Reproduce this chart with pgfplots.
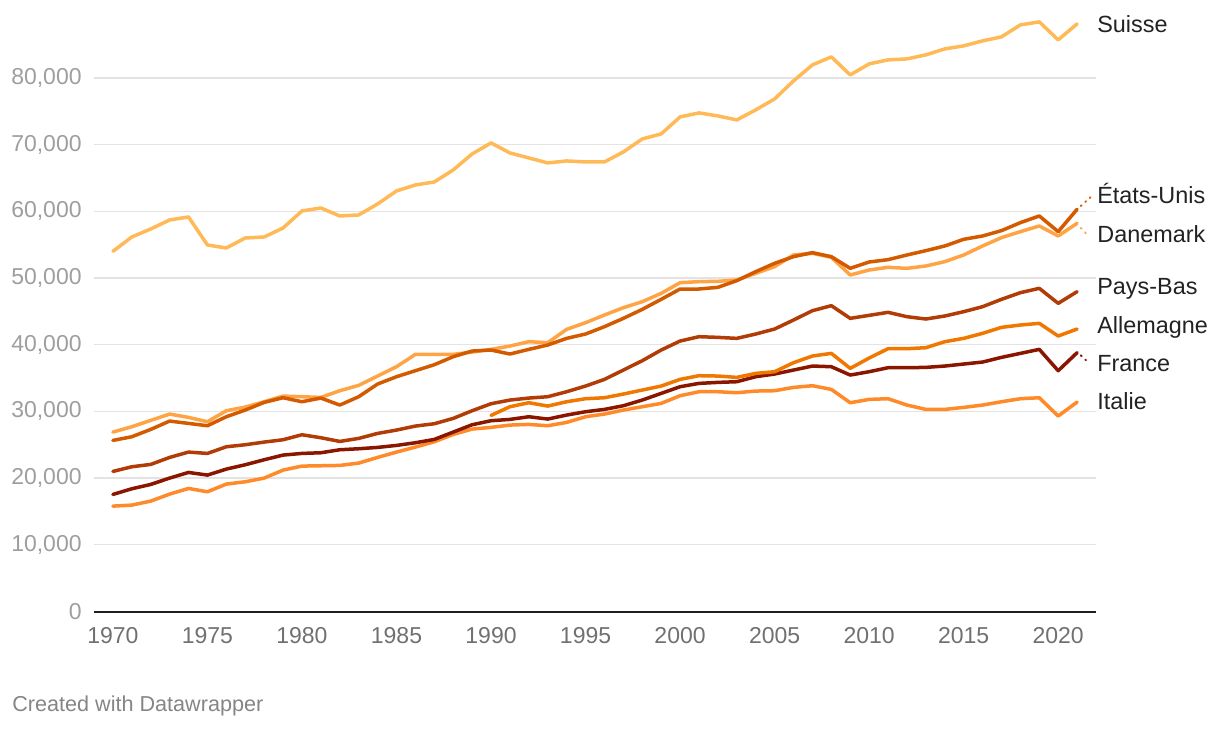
\documentclass[border=0pt]{standalone}
\usepackage{pgfplots}
\pgfplotsset{compat=1.18}
\usepackage{fontspec}
\setmainfont{Liberation Sans}
\definecolor{cSuisse}{HTML}{FFBA57}
\definecolor{cDan}{HTML}{FFA445}
\definecolor{cUS}{HTML}{D45A00}
\definecolor{cNL}{HTML}{B23C05}
\definecolor{cDE}{HTML}{F07800}
\definecolor{cFR}{HTML}{8A1600}
\definecolor{cIT}{HTML}{FF8A2A}
\definecolor{grid}{HTML}{E3E3E3}
\definecolor{ylab}{HTML}{9E9E9E}
\definecolor{xlab}{HTML}{707070}
\definecolor{lab}{HTML}{222222}
\begin{document}
\begin{tikzpicture}
\begin{axis}[
  at={(0,0)}, anchor=south west,
  scale only axis, width=501pt, height=300.15pt,
  xmin=1969, xmax=2022, ymin=0, ymax=90000,
  clip=false,
  axis x line*=bottom, axis y line*=left,
  x axis line style={draw=black!88, line width=1pt, -},
  y axis line style={draw=none, -},
  major tick length=0pt,
  xtick={1970,1975,...,2020},
  ytick={0,10000,...,80000},
  scaled y ticks=false, scaled x ticks=false,
  ymajorgrids, grid style={draw=grid, line width=0.65pt},
  xticklabel style={font=\fontsize{11.5}{13}\selectfont, text=xlab, inner sep=0pt, anchor=north, yshift=-7.8pt, /pgf/number format/1000 sep={}},
  yticklabel style={font=\fontsize{11.5}{13}\selectfont, text=ylab, inner sep=0pt, anchor=east, xshift=-6pt, /pgf/number format/1000 sep={,}},
  /pgf/number format/assume math mode=true,
  every axis plot/.append style={line width=1.75pt, line join=round, line cap=round, no markers},
]
% Suisse
\addplot[cSuisse] coordinates {(1970,54000)(1971,56150)(1972,57350)(1973,58700)(1974,59150)(1975,54950)(1976,54500)(1977,56000)(1978,56150)(1979,57500)(1980,60050)(1981,60500)(1982,59300)(1983,59450)(1984,61100)(1985,63050)(1986,63950)(1987,64400)(1988,66200)(1989,68600)(1990,70250)(1991,68750)(1992,68000)(1993,67250)(1994,67550)(1995,67400)(1996,67400)(1997,68900)(1998,70850)(1999,71600)(2000,74150)(2001,74750)(2002,74300)(2003,73700)(2004,75200)(2005,76850)(2006,79550)(2007,81950)(2008,83150)(2009,80450)(2010,82100)(2011,82700)(2012,82850)(2013,83450)(2014,84350)(2015,84800)(2016,85550)(2017,86150)(2018,87950)(2019,88400)(2020,85700)(2021,88100)};
% Italie
\addplot[cIT] coordinates {(1970,15800)(1971,15950)(1972,16550)(1973,17600)(1974,18450)(1975,17950)(1976,19100)(1977,19450)(1978,20000)(1979,21200)(1980,21800)(1981,21850)(1982,21900)(1983,22250)(1984,23100)(1985,23900)(1986,24650)(1987,25450)(1988,26550)(1989,27350)(1990,27600)(1991,27950)(1992,28050)(1993,27850)(1994,28350)(1995,29200)(1996,29600)(1997,30200)(1998,30700)(1999,31200)(2000,32350)(2001,32950)(2002,32950)(2003,32800)(2004,33050)(2005,33100)(2006,33600)(2007,33850)(2008,33300)(2009,31300)(2010,31800)(2011,31900)(2012,30950)(2013,30300)(2014,30300)(2015,30600)(2016,30950)(2017,31450)(2018,31900)(2019,32050)(2020,29300)(2021,31400)};
% France
\addplot[cFR] coordinates {(1970,17550)(1971,18400)(1972,19050)(1973,20000)(1974,20850)(1975,20450)(1976,21350)(1977,22000)(1978,22750)(1979,23450)(1980,23700)(1981,23800)(1982,24250)(1983,24400)(1984,24600)(1985,24900)(1986,25300)(1987,25800)(1988,26900)(1989,28000)(1990,28600)(1991,28800)(1992,29200)(1993,28850)(1994,29450)(1995,29950)(1996,30300)(1997,30850)(1998,31700)(1999,32700)(2000,33700)(2001,34200)(2002,34350)(2003,34450)(2004,35200)(2005,35600)(2006,36200)(2007,36800)(2008,36700)(2009,35450)(2010,35950)(2011,36550)(2012,36550)(2013,36600)(2014,36800)(2015,37100)(2016,37400)(2017,38100)(2018,38700)(2019,39300)(2020,36100)(2021,38800)};
% Allemagne
\addplot[cDE] coordinates {(1990,29400)(1991,30700)(1992,31300)(1993,30800)(1994,31450)(1995,31900)(1996,32050)(1997,32600)(1998,33200)(1999,33800)(2000,34800)(2001,35350)(2002,35300)(2003,35100)(2004,35700)(2005,35950)(2006,37300)(2007,38300)(2008,38700)(2009,36450)(2010,38000)(2011,39400)(2012,39400)(2013,39550)(2014,40450)(2015,40950)(2016,41700)(2017,42600)(2018,42950)(2019,43200)(2020,41300)(2021,42350)};
% Pays-Bas
\addplot[cNL] coordinates {(1970,21000)(1971,21700)(1972,22050)(1973,23100)(1974,23900)(1975,23700)(1976,24700)(1977,25000)(1978,25400)(1979,25750)(1980,26500)(1981,26050)(1982,25500)(1983,25950)(1984,26700)(1985,27200)(1986,27800)(1987,28150)(1988,28950)(1989,30100)(1990,31150)(1991,31700)(1992,32000)(1993,32200)(1994,32950)(1995,33800)(1996,34800)(1997,36200)(1998,37600)(1999,39200)(2000,40550)(2001,41200)(2002,41100)(2003,40950)(2004,41600)(2005,42350)(2006,43700)(2007,45100)(2008,45850)(2009,43950)(2010,44400)(2011,44850)(2012,44200)(2013,43850)(2014,44300)(2015,44950)(2016,45700)(2017,46800)(2018,47800)(2019,48450)(2020,46200)(2021,47950)};
% Danemark
\addplot[cDan] coordinates {(1970,26900)(1971,27700)(1972,28650)(1973,29600)(1974,29100)(1975,28450)(1976,30100)(1977,30650)(1978,31450)(1979,32300)(1980,32200)(1981,32100)(1982,33100)(1983,33900)(1984,35300)(1985,36700)(1986,38550)(1987,38550)(1988,38550)(1989,38900)(1990,39300)(1991,39800)(1992,40450)(1993,40300)(1994,42300)(1995,43300)(1996,44450)(1997,45550)(1998,46450)(1999,47700)(2000,49300)(2001,49450)(2002,49500)(2003,49700)(2004,50700)(2005,51700)(2006,53450)(2007,53700)(2008,53100)(2009,50450)(2010,51200)(2011,51600)(2012,51450)(2013,51800)(2014,52450)(2015,53450)(2016,54800)(2017,56050)(2018,56950)(2019,57800)(2020,56300)(2021,58200)};
% Etats-Unis
\addplot[cUS] coordinates {(1970,25650)(1971,26200)(1972,27300)(1973,28550)(1974,28200)(1975,27850)(1976,29200)(1977,30200)(1978,31350)(1979,32050)(1980,31450)(1981,32000)(1982,30950)(1983,32200)(1984,34100)(1985,35200)(1986,36100)(1987,37000)(1988,38200)(1989,39050)(1990,39200)(1991,38600)(1992,39300)(1993,39950)(1994,40950)(1995,41600)(1996,42700)(1997,43950)(1998,45300)(1999,46800)(2000,48350)(2001,48350)(2002,48600)(2003,49600)(2004,50950)(2005,52200)(2006,53200)(2007,53800)(2008,53200)(2009,51450)(2010,52400)(2011,52750)(2012,53450)(2013,54100)(2014,54800)(2015,55800)(2016,56300)(2017,57100)(2018,58300)(2019,59300)(2020,56950)(2021,60300)};
% dotted connectors
\addplot[cUS, line width=1pt, dash pattern=on 0.5pt off 2.5pt] coordinates {(2021.2,60800)(2021.7,62100)};
\addplot[cDan, line width=1pt, dash pattern=on 0.5pt off 2.5pt] coordinates {(2021.2,57500)(2021.6,56300)};
\addplot[cFR, line width=1pt, dash pattern=on 0.5pt off 2.5pt] coordinates {(2021.2,38400)(2021.5,37600)};
% labels
\begin{scope}[every node/.style={anchor=base west, inner sep=0pt, text=lab, font=\fontsize{11.7}{14}\selectfont}]
\node at (axis cs:2022.05,86880) {Suisse};
\node at (axis cs:2022.05,61120) {États-Unis};
\node at (axis cs:2022.05,55380) {Danemark};
\node at (axis cs:2022.05,47470) {Pays-Bas};
\node at (axis cs:2022.05,41730) {Allemagne};
\node at (axis cs:2022.05,35970) {France};
\node at (axis cs:2022.05,30330) {Italie};
\end{scope}
\end{axis}
\node[anchor=base west, inner sep=0pt, text=xlab!85, font=\fontsize{10.8}{12}\selectfont] at (-41pt,-50pt) {Created with Datawrapper};
\pgfresetboundingbox
\path[use as bounding box] (-47pt,-58.25pt) rectangle (563pt,305.75pt);
\end{tikzpicture}
\end{document}
